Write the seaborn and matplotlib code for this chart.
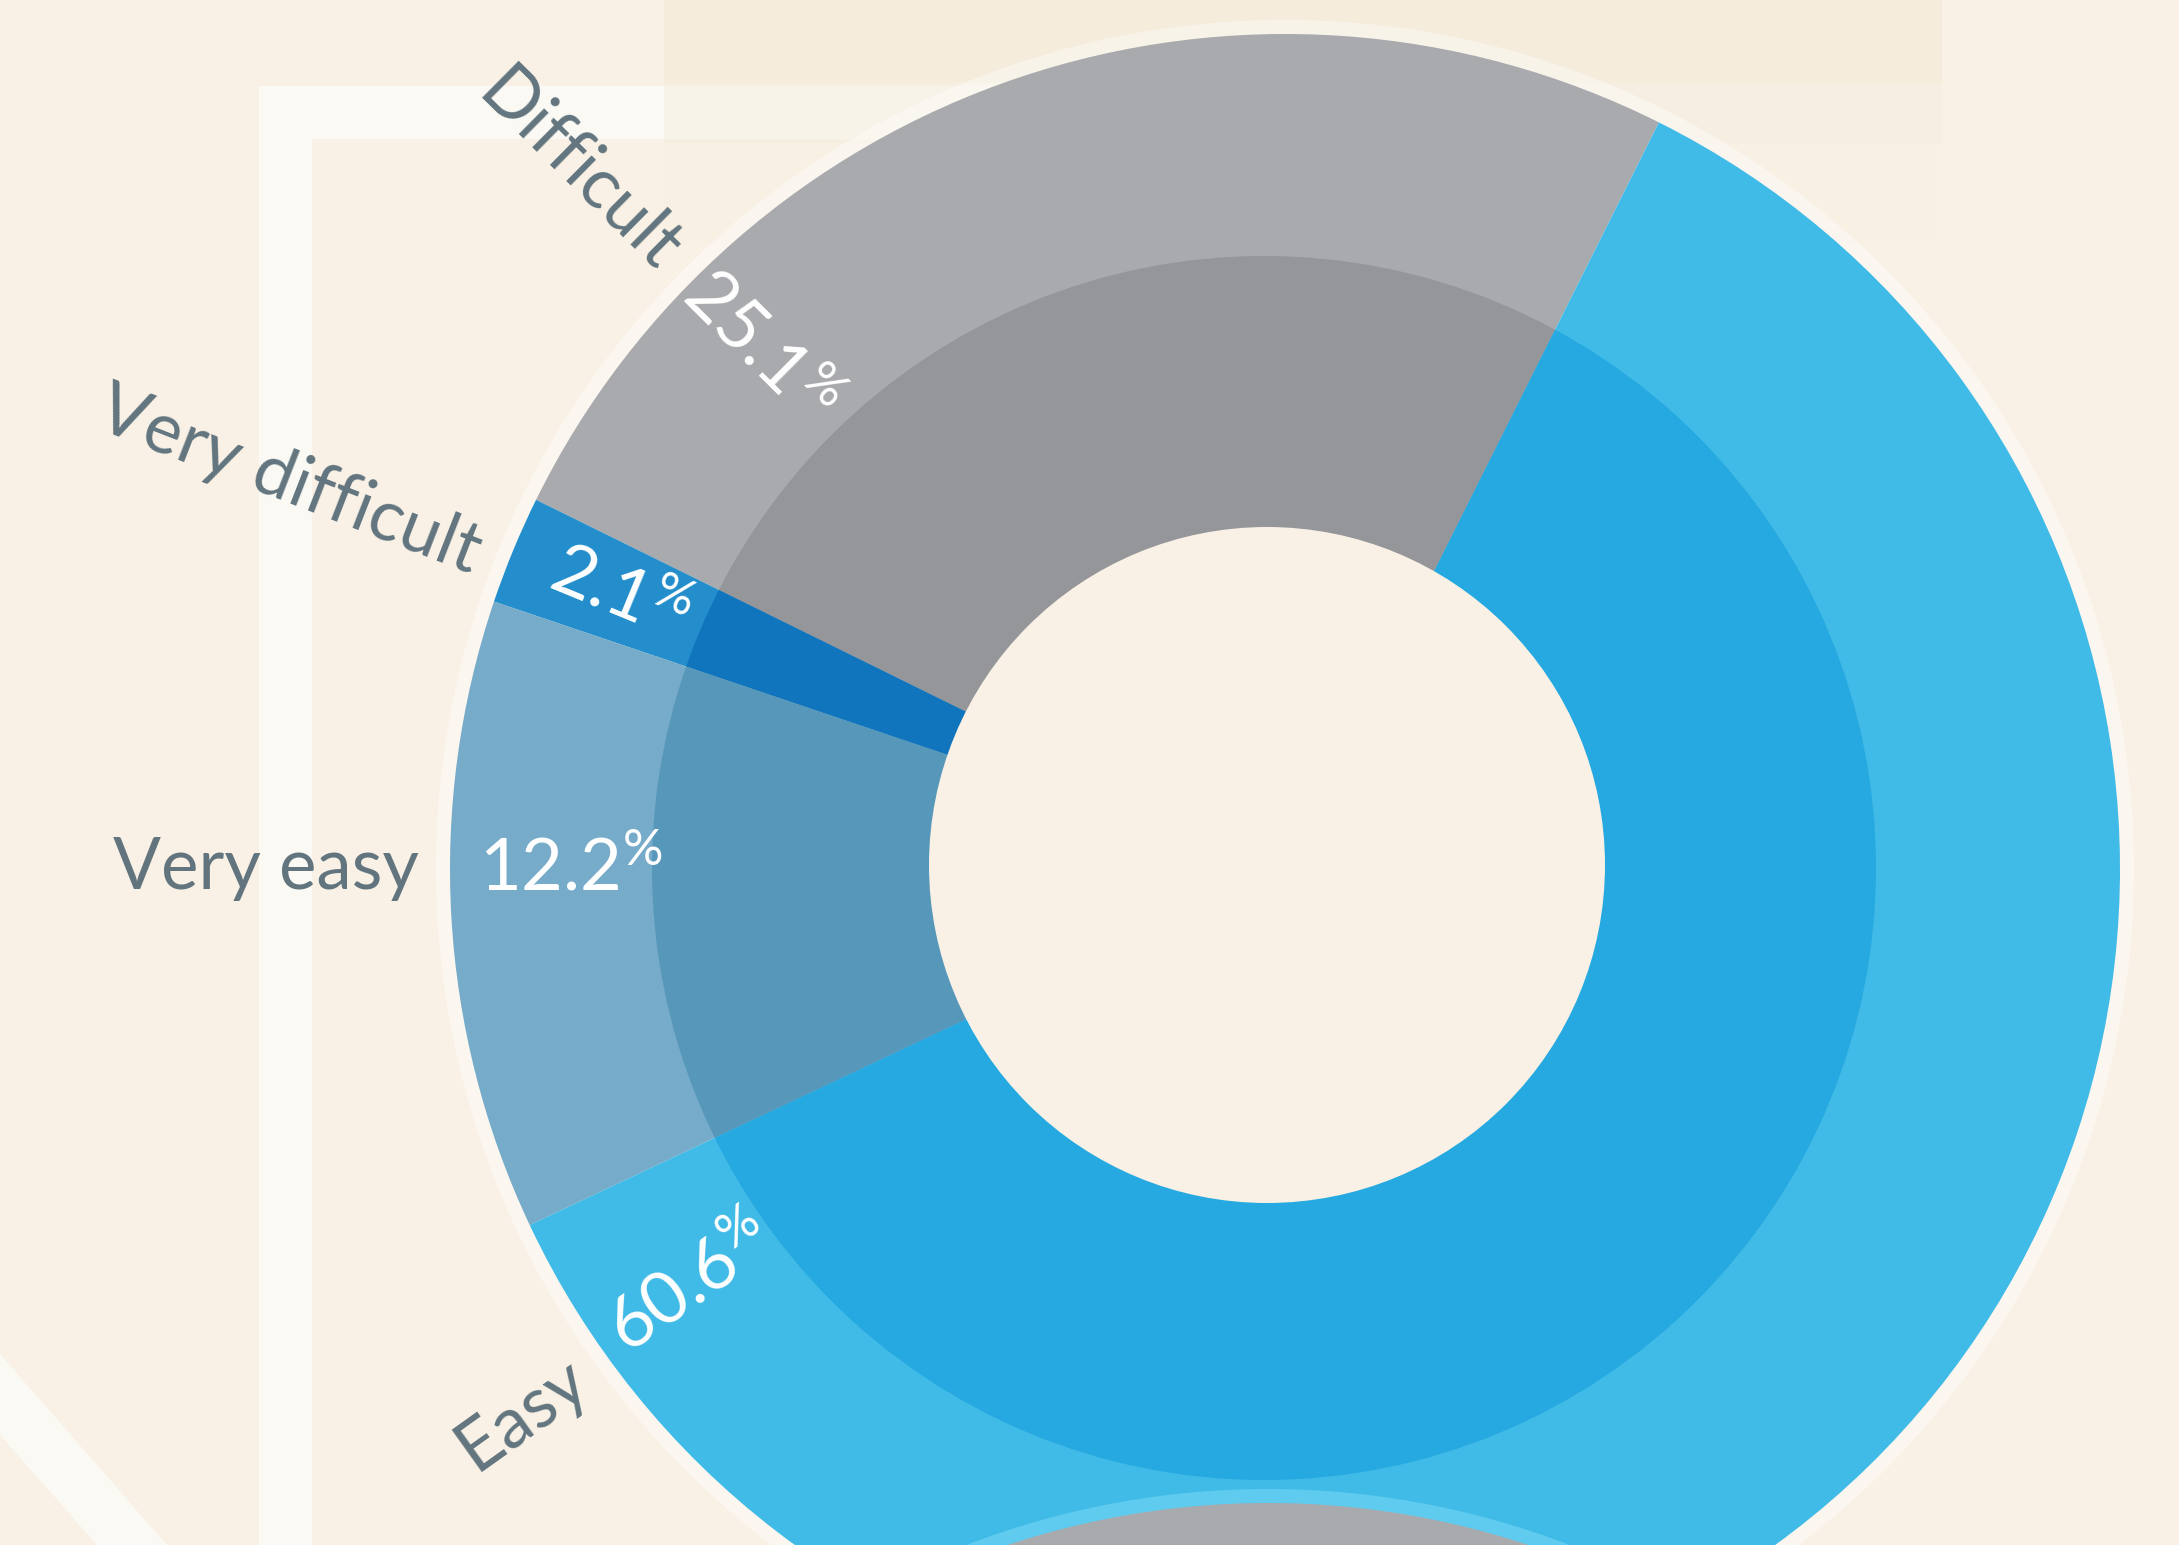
import numpy as np
import matplotlib
matplotlib.use("Agg")
import matplotlib.pyplot as plt
from matplotlib.patches import Circle, Rectangle, Polygon
from matplotlib.path import Path
import seaborn as sns

# ---- data ----
categories = ["Difficult", "Very difficult", "Very easy", "Easy"]
shares = [25.1, 2.1, 12.2, 60.6]
pct_labels = ["25.1", "2.1", "12.2", "60.6"]
outer_colors = ["#A9AAAD", "#238ECB", "#76ABC9", "#40BAE6"]
inner_colors = ["#95969A", "#1075BD", "#5797BA", "#25A9E0"]

# ---- layout (label angles in degrees, counter-clockwise from +x) ----
cat_label_angles = [135.3, 158.7, 180.0, 215.5]
pct_label_angles = [135.2, 157.6, 180.0, 215.0]
pct_label_radii = [740, 720, 714, 725]

BG = "#F9F1E5"
TXT = "#62757F"

sns.set_theme(style="white")
plt.rcParams["font.family"] = ["Lato", "DejaVu Sans"]
plt.rcParams["mathtext.fontset"] = "custom"
plt.rcParams["mathtext.rm"] = "Lato"

W, H = 2179, 1545
fig = plt.figure(figsize=(W / 100, H / 100), dpi=100)
fig.patch.set_facecolor(BG)
ax = fig.add_axes([0, 0, 1, 1])
ax.set_facecolor(BG)


def Y(y):
    return H - y


# ---- background decoration ----
ax.add_patch(Rectangle((664, Y(245)), 1942 - 664, 245, fc="#F8F0E3", ec="none", zorder=0.2))
ax.add_patch(Rectangle((664, Y(143)), 1942 - 664, 143, fc="#F6EEE0", ec="none", zorder=0.3))
ax.add_patch(Rectangle((664, Y(83)), 1942 - 664, 83, fc="#F5ECDC", ec="none", zorder=0.4))
ax.add_patch(Rectangle((259, Y(139)), 664 - 259, 53, fc="#FBF9F3", ec="none", zorder=0.5))
ax.add_patch(Rectangle((664, Y(139)), 1300 - 664, 53, fc="#F8F3E8", ec="none", zorder=0.5))
ax.add_patch(Rectangle((259, 0), 53, Y(86), fc="#FBF9F3", ec="none", zorder=0.5))
ax.add_patch(Polygon([(0, Y(1354)), (167, Y(1545)), (97, Y(1545)), (0, Y(1435))],
                     closed=True, fc="#FBF9F3", ec="none", zorder=0.5))

CX, CY = 1285, Y(869)
R_OUT = 835
START = 63.4

# light halo around donut
ax.add_patch(Circle((CX, CY), R_OUT + 14, fc="white", alpha=0.4, ec="none", zorder=1))

# outer ring
w_out, _ = ax.pie(shares, colors=outer_colors, startangle=START, counterclock=True,
                  radius=R_OUT, center=(CX, CY), wedgeprops=dict(linewidth=0))
for w in w_out:
    w.set_zorder(2)

# inner, darker ring (clipped to its own circle)
w_in, _ = ax.pie(shares, colors=inner_colors, startangle=START, counterclock=True,
                 radius=R_OUT, center=(CX, CY), wedgeprops=dict(linewidth=0))
clip_path = Path.circle((1264, Y(868)), 612)
for w in w_in:
    w.set_zorder(3)
    w.set_clip_on(True)
    w.set_clip_path(clip_path, ax.transData)

# hole
ax.add_patch(Circle((1267, Y(865)), 338, fc=BG, ec="none", zorder=4))

# next chart peeking in at the bottom
ax.add_patch(Circle((1268, Y(2331)), 842, fc="#5FCBEE", ec="none", zorder=5))
ax.add_patch(Circle((1268, Y(2331)), 828, fc="#A9AAAD", ec="none", zorder=6))

# ---- labels ----
for cat, ang in zip(categories, cat_label_angles):
    a = np.deg2rad(ang)
    r = 866
    ax.text(CX + r * np.cos(a), CY + r * np.sin(a), cat, rotation=ang - 180,
            rotation_mode="anchor", ha="right", va="center", color=TXT,
            fontsize=51, zorder=10)

for lab, ang, r in zip(pct_labels, pct_label_angles, pct_label_radii):
    a = np.deg2rad(ang)
    ax.text(CX + r * np.cos(a), CY + r * np.sin(a),
            r"$\mathregular{" + lab + r"^{\%}}$", rotation=ang - 180,
            rotation_mode="anchor", ha="center", va="center", color="white",
            fontsize=52, zorder=10)

ax.set_xlim(0, W)
ax.set_ylim(0, H)
ax.set_aspect("equal")
ax.axis("off")

fig.savefig("out.png", dpi=100, facecolor=BG)
